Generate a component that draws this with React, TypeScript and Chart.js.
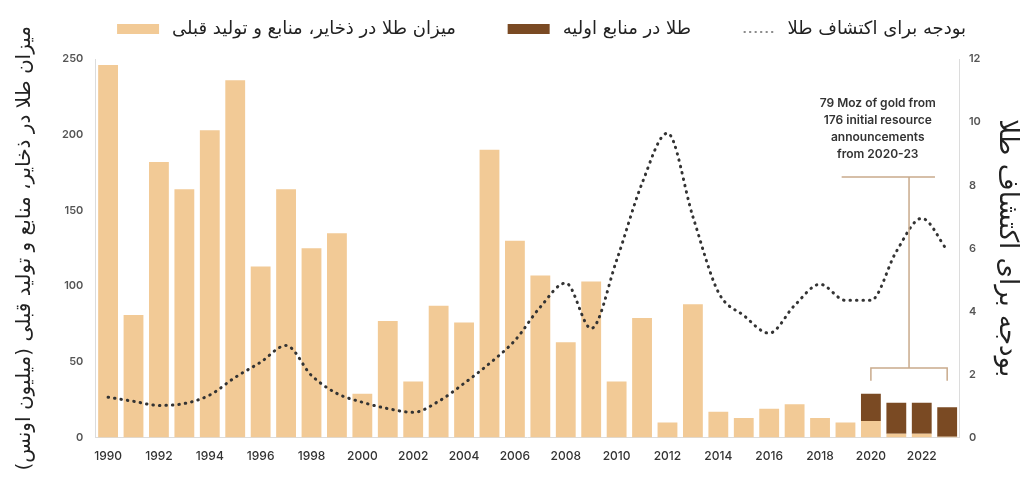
import React, { useEffect, useRef } from 'react';
import { Chart, registerables } from 'chart.js';

Chart.register(...registerables);

const years = [
  '1990', '1991', '1992', '1993', '1994', '1995', '1996', '1997', '1998', '1999',
  '2000', '2001', '2002', '2003', '2004', '2005', '2006', '2007', '2008', '2009',
  '2010', '2011', '2012', '2013', '2014', '2015', '2016', '2017', '2018', '2019',
  '2020', '2021', '2022', '2023',
];

// Moz in reserves, resources & past production (left axis)
const reservesResources = [
  246, 81, 182, 164, 203, 236, 113, 164, 125, 135,
  29, 77, 37, 87, 76, 190, 130, 107, 63, 103,
  37, 79, 10, 88, 17, 13, 19, 22, 13, 10,
  11, 2.5, 2.5, 0.5,
];

// Moz in initial resources (left axis, stacked)
const initialResources = [
  null, null, null, null, null, null, null, null, null, null,
  null, null, null, null, null, null, null, null, null, null,
  null, null, null, null, null, null, null, null, null, null,
  18, 20.5, 20.5, 19.5,
];

// Exploration budget (right axis)
const explorationBudget = [
  1.28, 1.15, 1.02, 1.08, 1.35, 1.91, 2.39, 2.92, 1.97, 1.4,
  1.12, 0.92, 0.8, 1.15, 1.72, 2.35, 3.08, 4.14, 4.9, 3.46,
  5.62, 8.06, 9.65, 7.0, 4.61, 3.87, 3.31, 4.19, 4.86, 4.35,
  4.35, 5.9, 6.95, 5.94,
];

const labelReserves = 'میزان طلا در ذخایر، منابع و تولید قبلی';
const labelInitial = 'طلا در منابع اولیه';
const labelBudget = 'بودجه برای اکتشاف طلا';
const leftAxisTitle = '\u200Fمیزان طلا در ذخایر، منابع و تولید قبلی (میلیون اونس)\u200F';
const rightAxisTitle = 'بودجه برای اکتشاف طلا';

const annotationLines = ['79 Moz of gold from', '176 initial resource', 'announcements', 'from 2020-23'];
// annotation bracket geometry in data units (category index / left-axis value)
const bracketFrom = 30; // 2020
const bracketTo = 33; // 2023
const bracketLow = 37.5;
const bracketMid = 46;
const bracketHigh = 172;
const bracketStem = 31.5;
const bracketTopFrom = 28.85;
const bracketTopTo = 32.52;
const annotationCenter = 30.27;

const LIGHT = '#F2CA96';
const DARK = '#7A4A23';
const LINE = '#333333';
const ANNOT = '#C9AA8C';
const PERSIAN_FONT = '"DejaVu Sans", "Noto Sans", sans-serif';
const NUM_FONT = 'Inter, "Open Sans", sans-serif';

const annotationPlugin = {
  id: 'goldAnnotation',
  afterDatasetsDraw(chart: any) {
    const { ctx, scales } = chart;
    const x = scales.x;
    const y = scales.y;
    ctx.save();
    ctx.strokeStyle = ANNOT;
    ctx.lineWidth = 1.5;
    ctx.beginPath();
    ctx.moveTo(x.getPixelForValue(bracketFrom), y.getPixelForValue(bracketLow));
    ctx.lineTo(x.getPixelForValue(bracketFrom), y.getPixelForValue(bracketMid));
    ctx.lineTo(x.getPixelForValue(bracketTo), y.getPixelForValue(bracketMid));
    ctx.lineTo(x.getPixelForValue(bracketTo), y.getPixelForValue(bracketLow));
    ctx.moveTo(x.getPixelForValue(bracketStem), y.getPixelForValue(bracketMid));
    ctx.lineTo(x.getPixelForValue(bracketStem), y.getPixelForValue(bracketHigh));
    ctx.moveTo(x.getPixelForValue(bracketTopFrom), y.getPixelForValue(bracketHigh));
    ctx.lineTo(x.getPixelForValue(bracketTopTo), y.getPixelForValue(bracketHigh));
    ctx.stroke();

    ctx.fillStyle = '#333';
    ctx.font = `600 12px ${NUM_FONT}`;
    ctx.textAlign = 'center';
    ctx.textBaseline = 'middle';
    const cx = x.getPixelForValue(annotationCenter);
    const topY = y.getPixelForValue(bracketHigh);
    const n = annotationLines.length;
    annotationLines.forEach((t, i) => {
      ctx.fillText(t, cx, topY - 23 - (n - 1 - i) * 17);
    });
    ctx.restore();
  },
};

const legendPlugin = {
  id: 'rtlLegend',
  afterDraw(chart: any) {
    const { ctx } = chart;
    const ds = chart.data.datasets;
    const items = [
      { ds: ds[0], right: 966, kind: 'line' },
      { ds: ds[2], right: 691, kind: 'box' },
      { ds: ds[1], right: 456, kind: 'box' },
    ];
    ctx.save();
    ctx.font = `18px ${PERSIAN_FONT}`;
    ctx.textBaseline = 'middle';
    ctx.textAlign = 'right';
    const cy = 29;
    items.forEach((it) => {
      ctx.fillStyle = '#222';
      ctx.fillText(it.ds.label, it.right, cy);
      const w = ctx.measureText(it.ds.label).width;
      const mr = it.right - w - 13;
      const ml = mr - 42;
      if (it.kind === 'box') {
        ctx.fillStyle = it.ds.backgroundColor;
        ctx.fillRect(ml, cy - 5, 42, 10);
      } else {
        ctx.strokeStyle = '#888';
        ctx.lineWidth = 2;
        ctx.lineCap = 'round';
        ctx.setLineDash([0.5, 5]);
        ctx.beginPath();
        ctx.moveTo(ml + 12, cy + 3);
        ctx.lineTo(mr, cy + 3);
        ctx.stroke();
      }
    });
    ctx.restore();
  },
};

export default function App() {
  const ref = useRef<HTMLCanvasElement | null>(null);

  useEffect(() => {
    document.body.style.margin = '0';
    if (!ref.current) return;
    const chart = new Chart(ref.current, {
      type: 'bar',
      data: {
        labels: years,
        datasets: [
          {
            type: 'line',
            label: labelBudget,
            data: explorationBudget,
            yAxisID: 'y1',
            borderColor: LINE,
            borderWidth: 3,
            borderDash: [0.5, 6],
            borderCapStyle: 'round',
            pointRadius: 0,
            cubicInterpolationMode: 'monotone',
            fill: false,
          } as any,
          {
            type: 'bar',
            label: labelReserves,
            data: reservesResources,
            yAxisID: 'y',
            backgroundColor: LIGHT,
            stack: 'gold',
            barPercentage: 0.78,
            categoryPercentage: 1,
          },
          {
            type: 'bar',
            label: labelInitial,
            data: initialResources,
            yAxisID: 'y',
            backgroundColor: DARK,
            stack: 'gold',
            barPercentage: 0.78,
            categoryPercentage: 1,
          },
        ],
      },
      options: {
        animation: false,
        responsive: false,
        maintainAspectRatio: false,
        layout: { padding: { top: 59, left: 4, right: 0, bottom: 5 } },
        plugins: {
          legend: { display: false },
          tooltip: { enabled: false },
        },
        scales: {
          x: {
            stacked: true,
            grid: { display: false, drawTicks: false },
            border: { display: true, color: '#dcdcdc', width: 1 },
            ticks: {
              autoSkip: false,
              maxRotation: 0,
              padding: 12,
              color: '#333',
              font: { family: NUM_FONT, size: 12, weight: 500 },
              callback: (_v: any, i: number) => (i % 2 === 0 ? years[i] : ''),
            },
          },
          y: {
            position: 'left',
            stacked: true,
            min: 0,
            max: 250,
            grid: { display: false, drawTicks: false },
            border: { display: true, color: '#dcdcdc', width: 1 },
            ticks: {
              stepSize: 50,
              padding: 12,
              color: '#555',
              font: { family: NUM_FONT, size: 11, weight: 600 },
            },
            title: {
              display: true,
              text: leftAxisTitle,
              color: '#222',
              font: { family: PERSIAN_FONT, size: 20 },
              padding: { top: 9, bottom: 13 },
            },
          },
          y1: {
            position: 'right',
            min: 0,
            max: 12,
            grid: { display: false, drawTicks: false },
            border: { display: true, color: '#dcdcdc', width: 1 },
            ticks: {
              stepSize: 2,
              padding: 9,
              color: '#555',
              font: { family: NUM_FONT, size: 11, weight: 600 },
            },
            title: {
              display: true,
              text: rightAxisTitle,
              color: '#222',
              font: { family: PERSIAN_FONT, size: 26 },
              padding: { top: 2, bottom: 1 },
            },
          },
        },
      },
      plugins: [annotationPlugin, legendPlugin],
    });
    return () => chart.destroy();
  }, []);

  return (
    <div style={{ width: 1024, height: 481 }}>
      <canvas ref={ref} width={1024} height={481} style={{ display: 'block' }} />
    </div>
  );
}
